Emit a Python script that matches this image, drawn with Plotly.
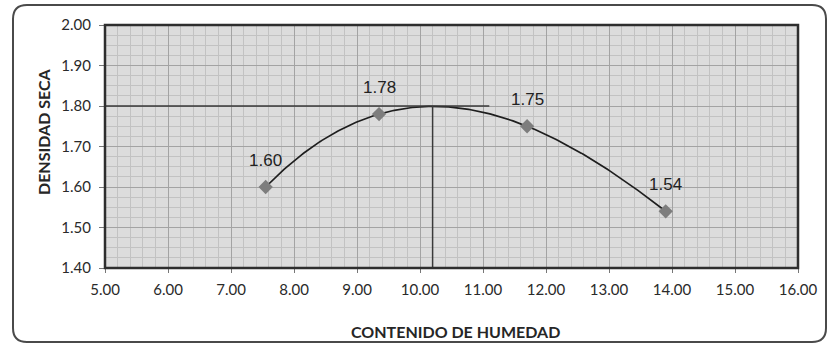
import numpy as np
import plotly.graph_objects as go

# Compaction test results
moisture = [7.55, 9.35, 11.70, 13.90]      # CONTENIDO DE HUMEDAD (%)
dry_density = [1.60, 1.78, 1.75, 1.54]     # DENSIDAD SECA (g/cm3)
density_labels = ["1.60", "1.78", "1.75", "1.54"]

# Optimum
opt_moisture = 10.20
max_density = 1.80
ref_line_end = 11.10

x_ticks = [5, 6, 7, 8, 9, 10, 11, 12, 13, 14, 15, 16]
y_ticks = [1.40, 1.50, 1.60, 1.70, 1.80, 1.90, 2.00]

# Polynomial trend line through the measured points
coef = np.polyfit(moisture, dry_density, 3)
xs = np.linspace(min(moisture), max(moisture), 200)
ys = np.polyval(coef, xs)

# Plot-area geometry in pixels (used to place the outer chart frame)
W, H = 828, 345
ML, MR, MT, MB = 105, 30, 25, 77
PW, PH = W - ML - MR, H - MT - MB


def px(xp):
    return (xp - ML) / PW


def py(yp):
    return (H - MB - yp) / PH


fig = go.Figure()

fig.add_trace(go.Scatter(
    x=xs, y=ys, mode="lines",
    line=dict(color="#1e1e1e", width=1.7),
    hoverinfo="skip", showlegend=False,
))
fig.add_trace(go.Scatter(
    x=moisture, y=dry_density, mode="markers",
    marker=dict(symbol="diamond", size=11, color="#7d7d7d",
                line=dict(width=0)),
    showlegend=False,
))

# Reference lines at the optimum
fig.add_shape(type="line", xref="x", yref="y",
              x0=x_ticks[0], x1=ref_line_end, y0=max_density, y1=max_density,
              line=dict(color="#3a3a3a", width=1.5))
fig.add_shape(type="line", xref="x", yref="y",
              x0=opt_moisture, x1=opt_moisture, y0=y_ticks[0], y1=max_density,
              line=dict(color="#3a3a3a", width=1.5))

# Plot frame
fig.add_shape(type="rect", xref="paper", yref="paper", x0=0, x1=1, y0=0, y1=1,
              line=dict(color="#2e2e2e", width=2.5), layer="above")

# Outer rounded chart frame
l, t, r, b, rad = px(13), py(5), px(826), py(342), 14
rx, ry = rad / PW, rad / PH
path = (f"M {l + rx},{t} L {r - rx},{t} Q {r},{t} {r},{t - ry} "
        f"L {r},{b + ry} Q {r},{b} {r - rx},{b} "
        f"L {l + rx},{b} Q {l},{b} {l},{b + ry} "
        f"L {l},{t - ry} Q {l},{t} {l + rx},{t} Z")
fig.add_shape(type="path", xref="paper", yref="paper", path=path,
              line=dict(color="#4a4a4a", width=2))

# Value labels
for xv, yv, txt in zip(moisture, dry_density, density_labels):
    fig.add_annotation(x=xv, y=yv, text=txt, showarrow=False,
                       yshift=27, xshift=0,
                       font=dict(family="Liberation Sans", size=17,
                                 color="#222222"))

# Axis titles
fig.add_annotation(xref="paper", yref="paper", x=px(456), y=py(331),
                   xanchor="center", yanchor="middle",
                   text="<b>CONTENIDO DE HUMEDAD</b>", showarrow=False,
                   font=dict(family="Lato", size=16, color="#262626"))
fig.add_annotation(xref="paper", yref="paper", x=px(43), y=py(132),
                   xanchor="center", yanchor="middle",
                   text="<b>DENSIDAD SECA</b>", showarrow=False, textangle=-90,
                   font=dict(family="Lato", size=16, color="#262626"))

grid_major = "#a3a3a3"
grid_minor = "#c2c2c2"

fig.update_xaxes(
    range=[x_ticks[0], x_ticks[-1]], tickvals=x_ticks,
    ticktext=[f"{v:.2f}" for v in x_ticks],
    showgrid=True, gridcolor=grid_major, gridwidth=1.2,
    minor=dict(dtick=0.2, showgrid=True, gridcolor=grid_minor, gridwidth=1),
    ticks="outside", ticklen=4, tickcolor="#777", showline=False,
    zeroline=False, ticklabelstandoff=4,
    tickfont=dict(family="Lato", size=15, color="#2a2a2a"),
)
fig.update_yaxes(
    range=[y_ticks[0], y_ticks[-1]], tickvals=y_ticks,
    ticktext=[f"{v:.2f}" for v in y_ticks],
    showgrid=True, gridcolor=grid_major, gridwidth=1.2,
    minor=dict(dtick=0.025, showgrid=True, gridcolor=grid_minor, gridwidth=1),
    ticks="outside", ticklen=5, tickcolor="#777", showline=False,
    zeroline=False, ticklabelstandoff=5,
    tickfont=dict(family="Lato", size=15, color="#2a2a2a"),
)

fig.update_layout(
    width=W, height=H,
    margin=dict(l=ML, r=MR, t=MT, b=MB, pad=0),
    paper_bgcolor="white", plot_bgcolor="#dcdcdc",
    showlegend=False,
)

fig.write_html("out.html")
